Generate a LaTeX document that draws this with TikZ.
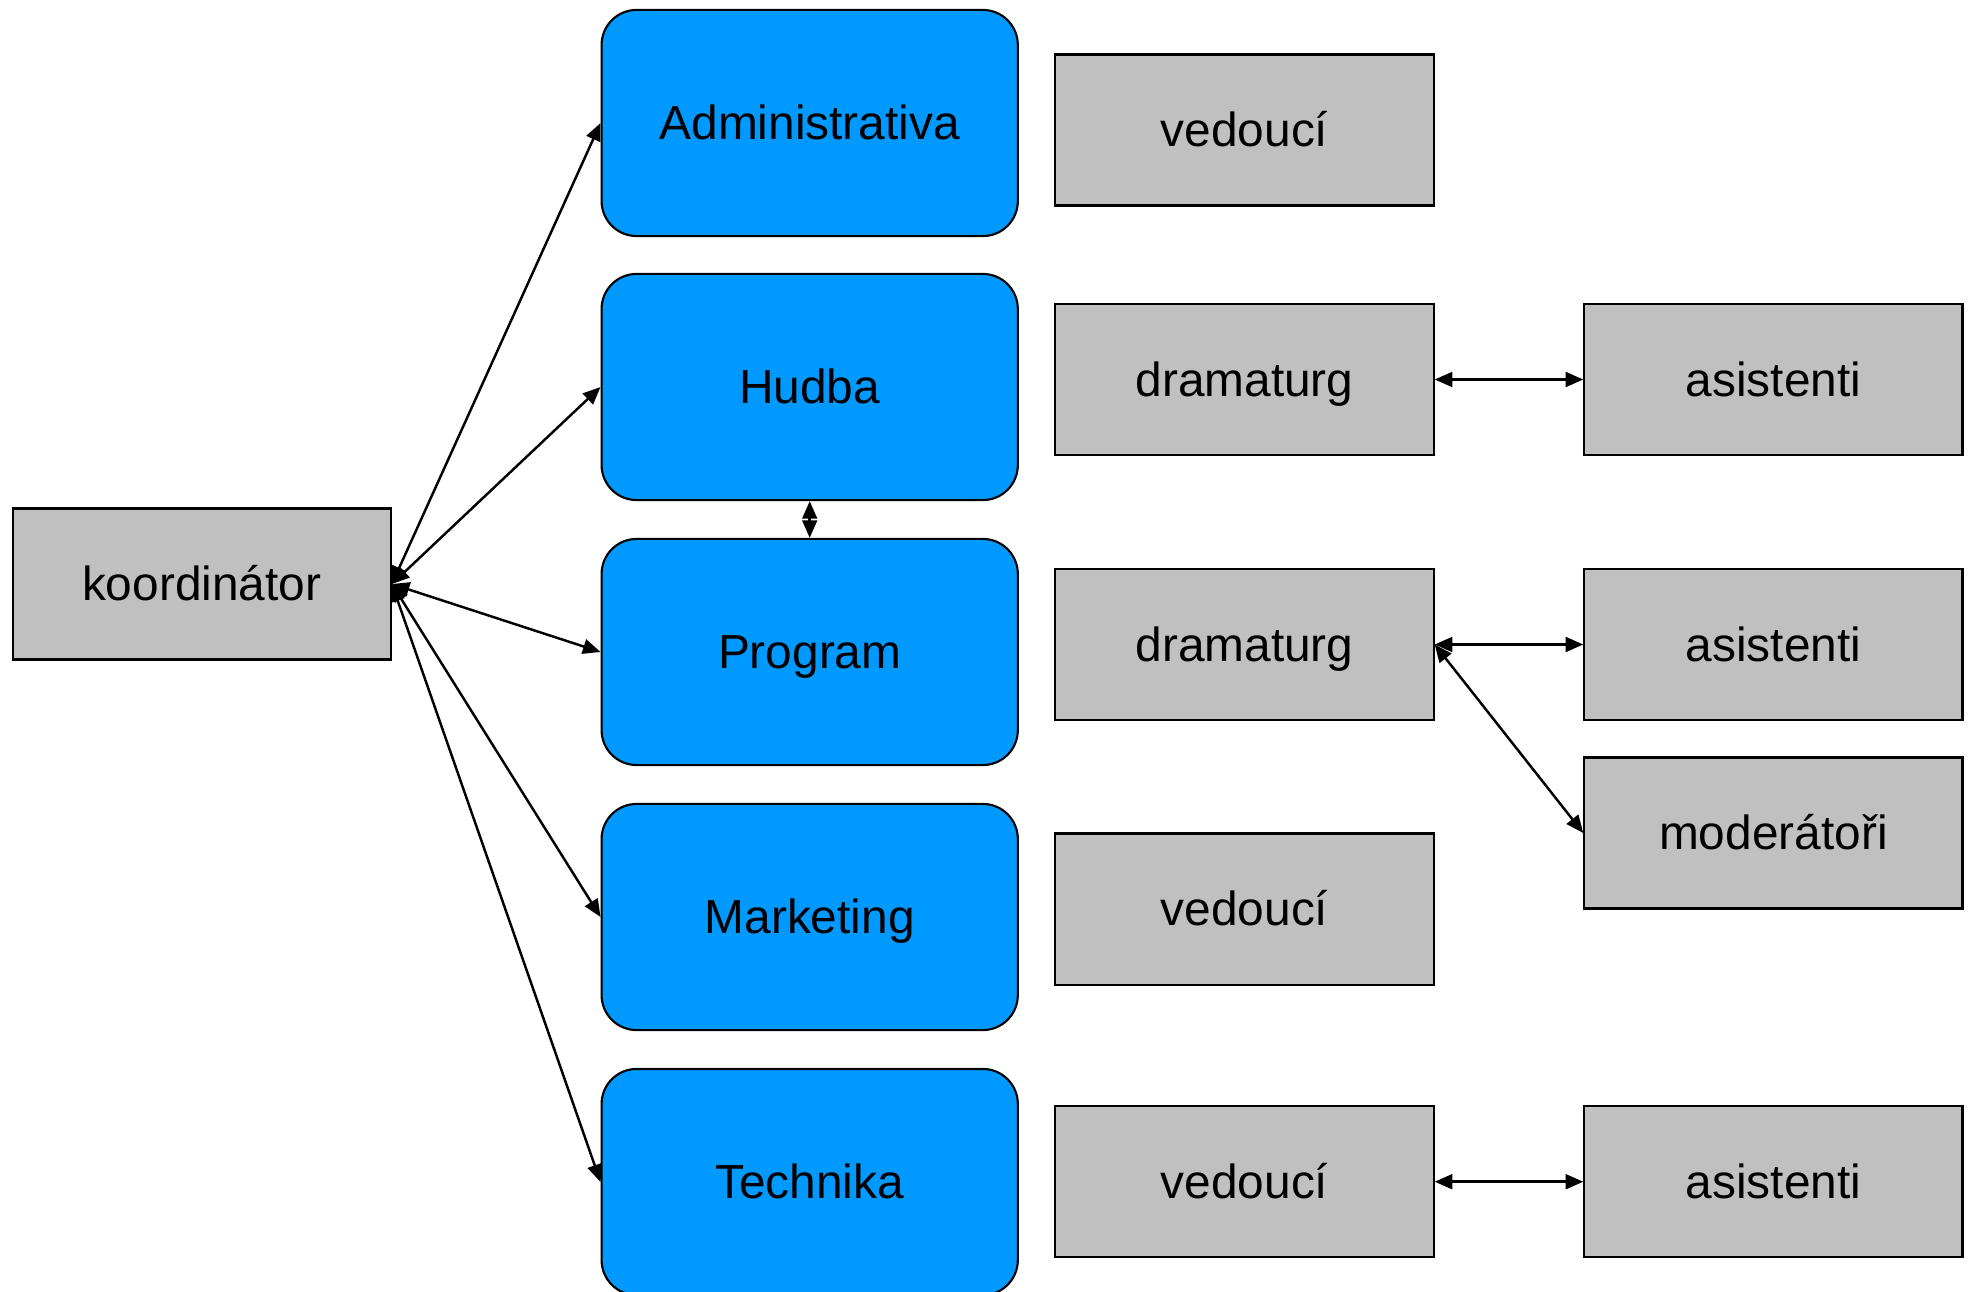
\documentclass[tikz,border=0pt]{standalone}
\usepackage{fontspec}
\setmainfont{Liberation Sans}
\usetikzlibrary{arrows.meta}
\definecolor{bluebox}{RGB}{0,153,255}
\definecolor{graybox}{RGB}{192,192,192}
\tikzset{
  unitbox/.style={draw=black,line width=0.6pt,inner sep=0pt,font=\fontsize{13.6}{16}\selectfont,text height=0.95em,text depth=0pt},
  greybox/.style={unitbox,fill=graybox,minimum width=3.78cm,minimum height=1.51cm},
  bluenode/.style={unitbox,fill=bluebox,rounded corners=0.35cm,minimum width=4.16cm,minimum height=2.26cm},
  link/.style={line width=0.7pt,{Triangle[length=5pt,width=4.2pt]}-{Triangle[length=5pt,width=4.2pt]}}
}
\begin{document}
\begin{tikzpicture}[x=0.01cm,y=-0.01cm]
\clip (0,0) rectangle (1970,1291);
\fill[white] (0,0) rectangle (1970,1291);
% left
\node[greybox] (koord) at (201.7,584) {koordinátor};
% blue column
\node[bluenode] (adm) at (809.7,123) {Administrativa};
\node[bluenode] (hud) at (809.7,387) {Hudba};
\node[bluenode] (prg) at (809.7,652) {Program};
\node[bluenode] (mkt) at (809.7,917) {Marketing};
\node[bluenode] (tec) at (809.7,1182) {Technika};
% middle column
\node[greybox] (ved1) at (1244.5,130) {vedoucí};
\node[greybox] (dra1) at (1244.5,379.5) {dramaturg};
\node[greybox] (dra2) at (1244.5,644.5) {dramaturg};
\node[greybox] (ved2) at (1244.5,909) {vedoucí};
\node[greybox] (ved3) at (1244.5,1181.7) {vedoucí};
% right column
\node[greybox] (asi1) at (1773.4,379.5) {asistenti};
\node[greybox] (asi2) at (1773.4,644.5) {asistenti};
\node[greybox] (mod) at (1773.4,833) {moderátoři};
\node[greybox] (asi3) at (1773.4,1181.7) {asistenti};
% connectors
\draw[link] (koord.east) -- (adm.west);
\draw[link] (koord.east) -- (hud.west);
\draw[link] (koord.east) -- (prg.west);
\draw[link] (koord.east) -- (mkt.west);
\draw[link] (koord.east) -- (tec.west);
\draw[link] (hud.south) -- (prg.north);
\draw[link] (dra1.east) -- (asi1.west);
\draw[link] (dra2.east) -- (asi2.west);
\draw[link] (dra2.east) -- (mod.west);
\draw[link] (ved3.east) -- (asi3.west);
\end{tikzpicture}
\end{document}
